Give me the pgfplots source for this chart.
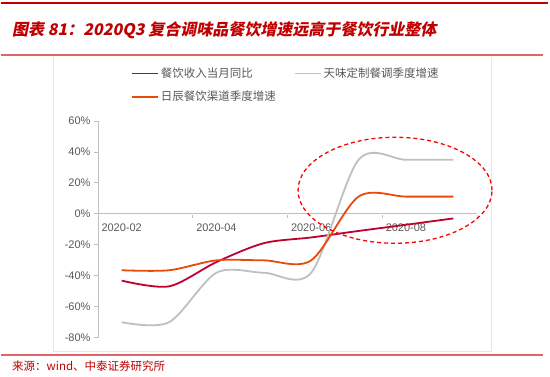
\documentclass[border=0pt]{standalone}
\usepackage{fontspec}
\setmainfont{Liberation Sans}
\newfontfamily\cjk{Noto Sans CJK SC}
\newfontfamily\titlefont[FakeSlant=0.2]{Noto Sans CJK SC}
\usepackage{pgfplots}
\pgfplotsset{compat=1.18}
\definecolor{cRed}{HTML}{C00030}
\definecolor{cGray}{HTML}{BFBFBF}
\definecolor{cOrange}{HTML}{E84A0A}
\definecolor{cTitle}{HTML}{C00000}
\definecolor{cRule}{HTML}{E06666}
\definecolor{cFrame}{HTML}{E6E6E6}
\definecolor{cAxis}{HTML}{BFBFBF}
\definecolor{cText}{HTML}{595959}
\begin{document}
\begin{tikzpicture}
\useasboundingbox (0bp,0bp) rectangle (550bp,-377bp);
% decorations
\draw[cTitle, line width=2.5bp] (1bp,-3bp) -- (548bp,-3bp);
\node[anchor=west, text=cTitle, inner sep=0pt] at (12bp,-30bp) {\titlefont\bfseries\fontsize{16bp}{18bp}\selectfont 图表 81：2020Q3 复合调味品餐饮增速远高于餐饮行业整体};
\draw[cRule, line width=2bp] (1bp,-55bp) -- (543bp,-55bp);
\draw[cFrame, line width=1.5bp] (53.3bp,-57bp) -- (53.3bp,-351.7bp) -- (491.7bp,-351.7bp) -- (491.7bp,-57bp);
\draw[cRule, line width=2bp] (1bp,-354.7bp) -- (543bp,-354.7bp);
\node[anchor=west, text=cTitle, inner sep=0pt] at (12bp,-366bp) {\cjk\fontsize{11.5bp}{13bp}\selectfont 来源：wind、中泰证券研究所};
\begin{axis}[
  at={(98bp,-337.7bp)}, anchor=south west,
  scale only axis, width=379bp, height=216.6bp,
  xmin=-0.5, xmax=7.5, ymin=-80, ymax=60,
  axis x line=middle, axis y line=left,
  axis line style={-, draw=cAxis, line width=1bp},
  hide obscured x ticks=false, hide obscured y ticks=false,
  xtick={0,2,4,6},
  xticklabels={2020-02,2020-04,2020-06,2020-08},
  major x tick style={draw=none},
  minor xtick={-0.5,1.5,3.5,5.5,7.5},
  minor x tick style={draw=cAxis, line width=1bp, yshift=-1.5bp},
  minor tick length=3bp,
  ytick={-80,-60,-40,-20,0,20,40,60},
  yticklabels={-80\%,-60\%,-40\%,-20\%,0\%,20\%,40\%,60\%},
  y tick style={draw=cAxis, line width=1bp},
  major tick length=4bp,
  tick align=outside,
  tick label style={font=\fontsize{11bp}{13bp}\selectfont, text=cText},
  xticklabel style={yshift=-2bp},
  clip=false,
  legend columns=2,
  legend cell align=left,
  legend style={at={(0.079,1.265)}, anchor=north west, draw=none, fill=none,
    font=\cjk\fontsize{11.5bp}{13bp}\selectfont, text=cText,
    /tikz/every even column/.append style={column sep=16bp},
    row sep=8bp},
  legend image code/.code={\draw[#1] (0bp,0bp) -- (26bp,0bp);},
]
\addplot[cRed, line width=1.8bp, smooth, tension=0.5] coordinates {
 (0,-43.1) (1,-46.8) (2,-31.1) (3,-18.9) (4,-15.2) (5,-11.0) (6,-7.0) (7,-2.9)};
\addlegendentry{餐饮收入当月同比}
\addplot[cGray, line width=1.8bp, smooth, tension=0.5] coordinates {
 (0,-70) (1,-70) (2,-38) (3,-38) (4,-38) (5,35) (6,35) (7,35)};
\addlegendentry{天味定制餐调季度增速}
\addplot[cOrange, line width=1.8bp, smooth, tension=0.5] coordinates {
 (0,-36.4) (1,-36.4) (2,-30) (3,-30) (4,-30) (5,11.2) (6,11.2) (7,11.2)};
\addlegendentry{日辰餐饮渠道季度增速}
\draw[red, dashed, dash pattern=on 4bp off 3bp, line width=1.3bp] (axis cs:5.77,15.3) ellipse [x radius=97bp, y radius=53bp];
\end{axis}
\end{tikzpicture}
\end{document}
